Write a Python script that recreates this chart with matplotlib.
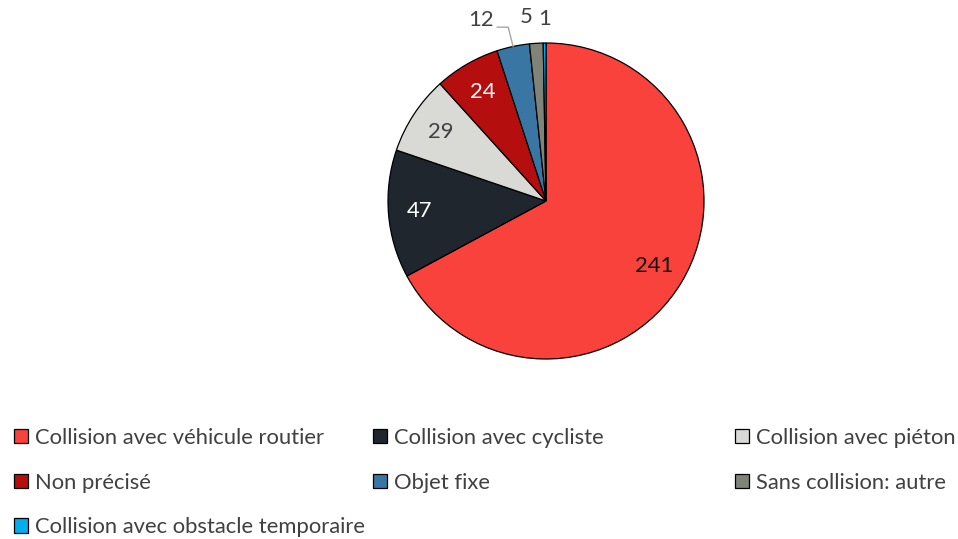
import numpy as np
import matplotlib.pyplot as plt

labels = ["Collision avec véhicule routier", "Collision avec cycliste",
          "Collision avec piéton", "Non précisé", "Objet fixe",
          "Sans collision: autre", "Collision avec obstacle temporaire"]
values = [241, 47, 29, 24, 12, 5, 1]
colors = ["#F8423B", "#1F262E", "#D9D9D6", "#B50E0E", "#3A76A3",
          "#7F8378", "#00AEEF"]
text_colors = ["#111111", "white", "#404040", "white"]

plt.rcParams["font.family"] = ["Lato", "DejaVu Sans"]
FS = 15.8

fig = plt.figure(figsize=(9.58, 5.39), dpi=100)
W, H = 958, 539
cx, cy, r = 546, 201, 158
ax = fig.add_axes([(cx - r) / W, (H - cy - r) / H, 2 * r / W, 2 * r / H])

wedges, _ = ax.pie(values, colors=colors, startangle=90, counterclock=False,
                   radius=1.0,
                   wedgeprops=dict(edgecolor="black", linewidth=0.9))
ax.set_xlim(-1, 1)
ax.set_ylim(-1, 1)
ax.set_aspect("equal")
ax.axis("off")

# labels inside the big wedges
for w, v, tc in zip(wedges[:4], values[:4], text_colors):
    mid = np.deg2rad((w.theta1 + w.theta2) / 2)
    ax.text(0.8 * np.cos(mid), 0.8 * np.sin(mid), str(v), ha="center",
            va="center", fontsize=FS, color=tc)

# labels outside the small wedges
out_pos = [(1.22, 109.8), (1.17, 96.2), (1.15, 90.3)]
for w, v, (rr, ang) in zip(wedges[4:], values[4:], out_pos):
    a = np.deg2rad(ang)
    ax.text(rr * np.cos(a), rr * np.sin(a), str(v), ha="center", va="center",
            fontsize=FS, color="#404040", clip_on=False)

# leader line for "12"
w = wedges[4]
mid = np.deg2rad((w.theta1 + w.theta2) / 2)
ax.annotate("", xy=(np.cos(mid), np.sin(mid)), xytext=(-0.31, 1.10),
            arrowprops=dict(arrowstyle="-", color="#A6A6A6", lw=1,
                            shrinkA=0, shrinkB=0,
                            connectionstyle="angle,angleA=0,angleB=104,rad=0"),
            annotation_clip=False)

# legend: three columns, filled row by row
col_x = [14, 373, 735]
for c in range(3):
    hs = wedges[c::3]
    ls = labels[c::3]
    fig.legend(hs, ls, loc="upper left",
               bbox_to_anchor=(col_x[c] / W, 1 - 428 / H),
               frameon=False, fontsize=FS, handlelength=0.62,
               handleheight=0.62, handletextpad=0.33, labelspacing=1.12,
               borderpad=0, borderaxespad=0, labelcolor="#404040")

fig.savefig("out.png", dpi=100)
